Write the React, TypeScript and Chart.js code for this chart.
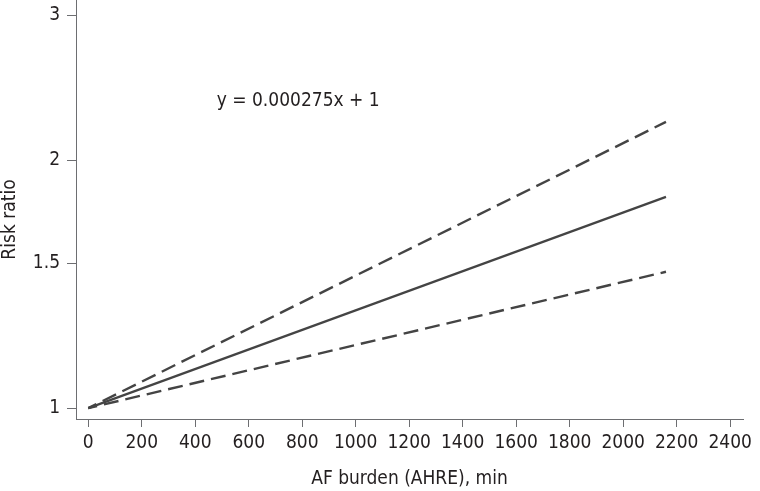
import React, { useEffect, useRef } from "react";
import { Chart, registerables, Plugin } from "chart.js";

Chart.register(...registerables);

// data (log-scaled risk ratio vs AF burden)
const burdenMin = [0, 2160];
const rrFit = [1, 1.805];
const rrUpper = [1, 2.226];
const rrLower = [1, 1.464];

const xTicks = [0, 200, 400, 600, 800, 1000, 1200, 1400, 1600, 1800, 2000, 2200, 2400];
const yTicks = [1, 1.5, 2, 3];

const equationText = "y = 0.000275x + 1";
const equationAt = { x: 480, y: 2.36 };

const FONT = "'DejaVu Sans Condensed', 'DejaVu Sans', sans-serif";
const FONT_SIZE = 19;
const TEXT = "#231f20";
const AXIS = "#6d6e71";
const LINE = "#444444";

const toPoints = (ys: number[]) => burdenMin.map((x, i) => ({ x, y: ys[i] }));

const labelsPlugin: Plugin<"line"> = {
  id: "labels",
  afterDatasetsDraw(chart) {
    const { ctx, chartArea, scales } = chart;
    ctx.save();
    ctx.fillStyle = TEXT;
    ctx.font = `${FONT_SIZE}px ${FONT}`;
    // equation text
    ctx.textAlign = "left";
    ctx.textBaseline = "middle";
    ctx.fillText(
      equationText,
      scales.x.getPixelForValue(equationAt.x),
      scales.y.getPixelForValue(equationAt.y)
    );
    // y axis title
    ctx.translate(10, (chartArea.top + chartArea.bottom) / 2 + 10);
    ctx.rotate(-Math.PI / 2);
    ctx.textAlign = "center";
    ctx.fillText("Risk ratio", 0, 0);
    ctx.restore();
  },
};

const App: React.FC = () => {
  const canvasRef = useRef<HTMLCanvasElement>(null);

  useEffect(() => {
    if (!canvasRef.current) return;
    const tickFont = { family: FONT, size: FONT_SIZE };

    const chart = new Chart(canvasRef.current, {
      type: "line",
      data: {
        datasets: [
          {
            label: "fit",
            data: toPoints(rrFit),
            borderColor: LINE,
            borderWidth: 2.2,
            pointRadius: 0,
          },
          {
            label: "upper",
            data: toPoints(rrUpper),
            borderColor: LINE,
            borderWidth: 2.4,
            borderDash: [15, 7],
            borderDashOffset: 6,
            pointRadius: 0,
          },
          {
            label: "lower",
            data: toPoints(rrLower),
            borderColor: LINE,
            borderWidth: 2.4,
            borderDash: [15, 7],
            borderDashOffset: 6,
            pointRadius: 0,
          },
        ],
      },
      options: {
        animation: false,
        responsive: true,
        maintainAspectRatio: false,
        layout: { padding: { top: 0, left: 0, bottom: 0, right: 17 } },
        plugins: {
          legend: { display: false },
          tooltip: { enabled: false },
        },
        scales: {
          x: {
            type: "linear",
            min: -46,
            max: 2448,
            afterBuildTicks: (s) => {
              s.ticks = xTicks.map((value) => ({ value }));
            },
            afterFit: (s) => {
              s.height = 72;
              s.paddingLeft = 0;
              s.paddingRight = 0;
            },
            grid: {
              drawOnChartArea: false,
              drawTicks: true,
              tickLength: 8,
              color: AXIS,
            },
            border: { display: true, color: AXIS, width: 1 },
            ticks: {
              font: tickFont,
              color: TEXT,
              padding: 5,
              autoSkip: false,
              maxRotation: 0,
              callback: (v) => String(v),
            },
            title: {
              display: true,
              text: "AF burden (AHRE), min",
              font: tickFont,
              color: TEXT,
              padding: { top: 0, bottom: 1 },
            },
          },
          y: {
            type: "logarithmic",
            min: 0.97,
            max: 3.13,
            afterBuildTicks: (s) => {
              s.ticks = yTicks.map((value) => ({ value }));
            },
            afterFit: (s) => {
              s.width = 76;
              s.paddingTop = 0;
              s.paddingBottom = 0;
            },
            grid: {
              drawOnChartArea: false,
              drawTicks: true,
              tickLength: 9,
              color: AXIS,
            },
            border: { display: true, color: AXIS, width: 1 },
            ticks: {
              font: tickFont,
              color: TEXT,
              padding: 7,
              autoSkip: false,
              callback: (v) => String(v),
            },
          },
        },
      },
      plugins: [labelsPlugin],
    });

    return () => {
      chart.destroy();
    };
  }, []);

  return (
    <div style={{ position: "fixed", left: 0, top: 0, width: 760, height: 491, background: "#fff" }}>
      <canvas ref={canvasRef} />
    </div>
  );
};

export default App;
